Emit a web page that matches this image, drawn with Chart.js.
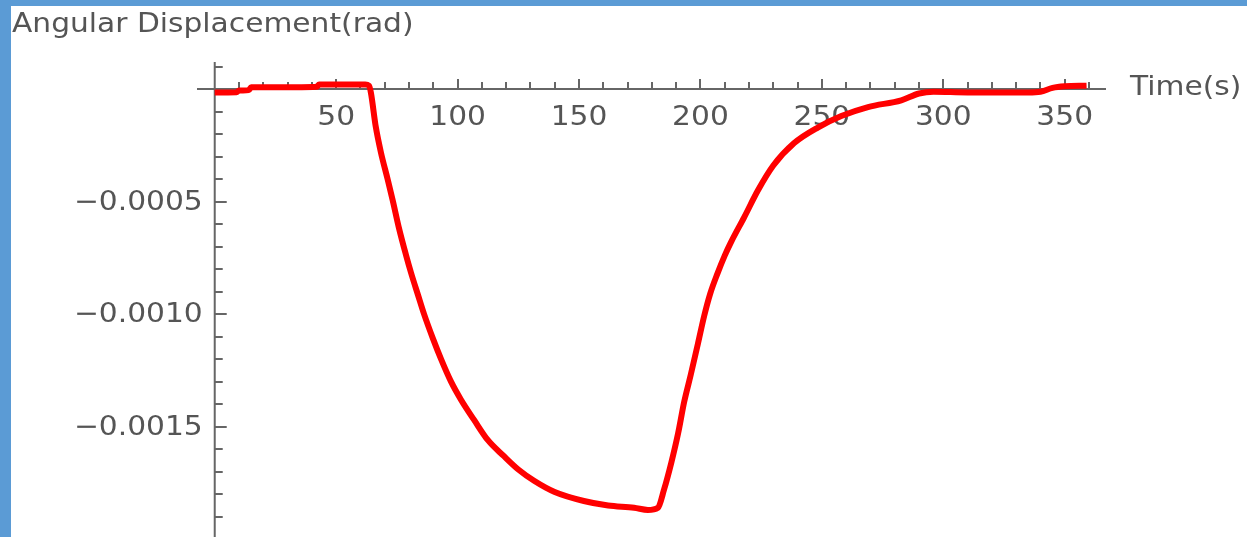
<!DOCTYPE html>
<html>
<head>
<meta charset="utf-8">
<title>Angular Displacement</title>
<script src="https://cdn.jsdelivr.net/npm/chart.js@4"></script>
<style>
  html, body { margin: 0; padding: 0; background: #fff; overflow: hidden; }
  #wrap { position: relative; width: 1247px; height: 537px; }
  .edge { position: absolute; background: #5b9bd5; }
</style>
</head>
<body>
<div id="wrap">
  <canvas id="graficoDeslocamento" width="1247" height="537"></canvas>
  <div class="edge" style="left:0;top:0;width:11px;height:537px"></div>
  <div class="edge" style="left:0;top:0;width:1247px;height:6px"></div>
</div>
<script>
// Dados
var tempos = [0, 9, 10, 14, 15, 33, 42, 43, 55, 62, 63.5, 64.3, 66.3, 68.4, 71.3, 73.3, 75.8, 78.7, 80.8,
  83.7, 86.2, 89.9, 93.2, 97.3, 101.4, 106.8, 112.5, 119, 125, 131.5, 140, 152, 162, 172.7, 178.4,
  182.5, 185, 188, 190.8, 193.3, 196, 199, 201.5, 204, 207, 210, 212.6, 218, 223.7, 230, 238.6,
  248.5, 258, 269, 282.7, 290, 296, 310, 335, 340, 345, 350, 359];
var deslocamentos = [-0.000015, -0.000014, -0.000007, -0.000005, 0.000008, 0.000008, 0.00001, 0.00002, 0.00002, 0.00002, 0.000015, -0.000016, -0.000167, -0.00028, -0.000405, -0.000495, -0.000615, -0.000735, -0.000815,
  -0.000915, -0.001, -0.00111, -0.0012, -0.0013, -0.00138, -0.00147, -0.00156, -0.00163, -0.00169, -0.00174, -0.00179, -0.00183, -0.00185, -0.00186, -0.00187,
  -0.00186, -0.00178, -0.00166, -0.00153, -0.00139, -0.00127, -0.00113, -0.00101, -0.00091, -0.00082, -0.00074, -0.00068, -0.00057, -0.00045, -0.00034, -0.00024,
  -0.00017, -0.00012, -0.00008, -0.00005, -0.00002, -0.000012, -0.000015, -0.000015, -0.000012, 0.000005, 0.000012, 0.000015];

var ticksX = [50, 100, 150, 200, 250, 300, 350];
var rotulosX = ['50', '100', '150', '200', '250', '300', '350'];
var ticksY = [-0.0005, -0.001, -0.0015];
var rotulosY = ['\u22120.0005', '\u22120.0010', '\u22120.0015'];

var pontos = tempos.map(function(t, i) { return { x: t, y: deslocamentos[i] }; });

function texto(ctx, s, x, y, align) {
  ctx.save();
  ctx.translate(x, y);
  ctx.scale(1.1, 1);
  ctx.textAlign = align;
  ctx.fillText(s, 0, 0);
  ctx.restore();
}

// Eixos no estilo do Mathematica
var eixos = {
  id: 'eixos',
  beforeDatasetsDraw: function(chart) {
    var ctx = chart.ctx, sx = chart.scales.x, sy = chart.scales.y, area = chart.chartArea;
    var x0 = sx.getPixelForValue(0), y0 = sy.getPixelForValue(0);
    ctx.save();
    ctx.strokeStyle = '#666';
    ctx.lineWidth = 2;
    ctx.beginPath();
    ctx.moveTo(area.left, y0); ctx.lineTo(area.right, y0);
    ctx.moveTo(x0, area.top); ctx.lineTo(x0, area.bottom);
    for (var t = 10; t <= 360; t += 10) {
      var px = Math.round(sx.getPixelForValue(t));
      var len = (t % 50 === 0) ? 10 : 7;
      ctx.moveTo(px, y0); ctx.lineTo(px, y0 - len);
    }
    for (var k = -19; k <= 1; k++) {
      if (k === 0) continue;
      var py = Math.round(sy.getPixelForValue(k * 0.0001));
      var l = (k % 5 === 0) ? 12 : 8;
      ctx.moveTo(x0, py); ctx.lineTo(x0 + l, py);
    }
    ctx.stroke();

    ctx.fillStyle = '#555';
    ctx.font = '27px "DejaVu Sans"';
    ctx.textBaseline = 'alphabetic';
    ticksX.forEach(function(v, i) {
      texto(ctx, rotulosX[i], sx.getPixelForValue(v), y0 + 36, 'center');
    });
    ticksY.forEach(function(v, i) {
      texto(ctx, rotulosY[i], x0 - 12, sy.getPixelForValue(v) + 8, 'right');
    });
    texto(ctx, 'Angular Displacement(rad)', 12, 32, 'left');
    texto(ctx, 'Time(s)', 1130, 95, 'left');
    ctx.restore();
  }
};

var config = {
  type: 'line',
  data: {
    datasets: [{
      label: 'Angular Displacement',
      data: pontos,
      borderColor: '#ff0000',
      borderWidth: 6,
      pointRadius: 0,
      cubicInterpolationMode: 'monotone',
      fill: false
    }]
  },
  options: {
    responsive: false,
    animation: false,
    layout: { padding: { left: 197, right: 141, top: 62, bottom: 0 } },
    plugins: { legend: { display: false }, tooltip: { enabled: false } },
    scales: {
      x: { type: 'linear', min: -7.3, max: 367, display: false },
      y: { type: 'linear', min: -0.00199, max: 0.00012, display: false }
    }
  },
  plugins: [eixos]
};

var ctx = document.getElementById('graficoDeslocamento').getContext('2d');
new Chart(ctx, config);
</script>
</body>
</html>
